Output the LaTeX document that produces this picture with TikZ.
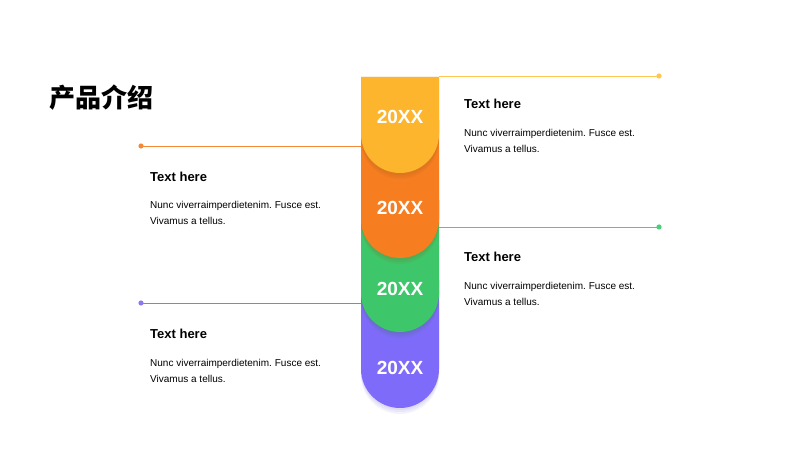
\documentclass[tikz,border=0pt]{standalone}
\usepackage{fontspec}
\setmainfont{Liberation Sans}
\newfontfamily\cjk{Noto Sans CJK SC}
\definecolor{stepyellow}{HTML}{FDB52E}
\definecolor{steporange}{HTML}{F77D21}
\definecolor{stepgreen}{HTML}{3DC76A}
\definecolor{steppurple}{HTML}{7F6BF9}
\definecolor{lineyellow}{HTML}{FFC751}
\definecolor{lineorange}{HTML}{F5893A}
\definecolor{linegreen}{HTML}{4CCF7C}
\definecolor{linepurple}{HTML}{8B79F4}
% block with flat top and round bottom: top, centre of the bottom arc
\newcommand{\stepblock}[2]{(361,#1) -- (439,#1) -- (439,#2) arc[start angle=0, end angle=-180, radius=39] -- cycle}

\begin{document}
\begin{tikzpicture}[x=1pt, y=1pt]
  \tikzstyle{glow}=[fill opacity=0.07]
  \tikzstyle{year}=[text=white, font=\fontsize{19}{22}\selectfont\bfseries, inner sep=0pt]
  \tikzstyle{head}=[anchor=west, inner sep=0pt, font=\fontsize{13}{15}\selectfont\bfseries]
  \tikzstyle{body}=[anchor=west, inner sep=0pt, align=left, font=\fontsize{10}{16}\selectfont]
  \tikzstyle{lead}=[line width=0.9pt]
  \useasboundingbox (0,0) rectangle (800,450);
  \fill[white] (0,0) rectangle (800,450);
  % title
  \node[anchor=west, inner sep=0pt, font=\cjk\fontsize{26}{30}\selectfont\bfseries] (title) at (49,352) {产品介绍};
  % column of blocks, bottom one first, each with a soft glow under it
  \foreach \s in {2,4,6}
    \fill[steppurple!80!black, glow] \stepblock{170}{81-\s};
  \fill[steppurple] \stepblock{170}{81};
  \foreach \s in {2,4,6}
    \fill[stepgreen!60!black, glow] \stepblock{250}{157-\s};
  \fill[stepgreen] \stepblock{250}{157};
  \foreach \s in {2,4,6}
    \fill[steporange!60!black, glow] \stepblock{330}{231-\s};
  \fill[steporange] \stepblock{330}{231};
  \foreach \s in {2,4,6}
    \fill[stepyellow!50!black, glow] \stepblock{373}{316-\s};
  \fill[stepyellow] \stepblock{373}{316};
  \node[year] (y1) at (400,333) {20XX};
  \node[year] (y2) at (400,242) {20XX};
  \node[year] (y3) at (400,161) {20XX};
  \node[year] (y4) at (400,82) {20XX};
  % leader lines
  \coordinate (e1) at (439,374);
  \coordinate (d1) at (659,374);
  \coordinate (e2) at (361,304);
  \coordinate (d2) at (141,304);
  \coordinate (e3) at (439,223);
  \coordinate (d3) at (659,223);
  \coordinate (e4) at (361,147);
  \coordinate (d4) at (141,147);
  \draw[lead, lineyellow] (e1) -- (d1);
  \fill[lineyellow] (d1) circle (2.6);
  \draw[lead, lineorange] (d2) -- (e2);
  \fill[lineorange] (d2) circle (2.6);
  \draw[lead, linegreen] (e3) -- (d3);
  \fill[linegreen] (d3) circle (2.6);
  \draw[lead, linepurple] (d4) -- (e4);
  \fill[linepurple] (d4) circle (2.6);
  % texts
  \node[head] (h1) at (464,346) {Text here};
  \node[body] (b1) at (464,309) {Nunc viverraimperdietenim.\hspace{3pt}Fusce est.\\Vivamus a tellus.};
  \node[head] (h2) at (150,273) {Text here};
  \node[body] (b2) at (150,237) {Nunc viverraimperdietenim.\hspace{3pt}Fusce est.\\Vivamus a tellus.};
  \node[head] (h3) at (464,193) {Text here};
  \node[body] (b3) at (464,156) {Nunc viverraimperdietenim.\hspace{3pt}Fusce est.\\Vivamus a tellus.};
  \node[head] (h4) at (150,116) {Text here};
  \node[body] (b4) at (150,79) {Nunc viverraimperdietenim.\hspace{3pt}Fusce est.\\Vivamus a tellus.};
\end{tikzpicture}
\end{document}
